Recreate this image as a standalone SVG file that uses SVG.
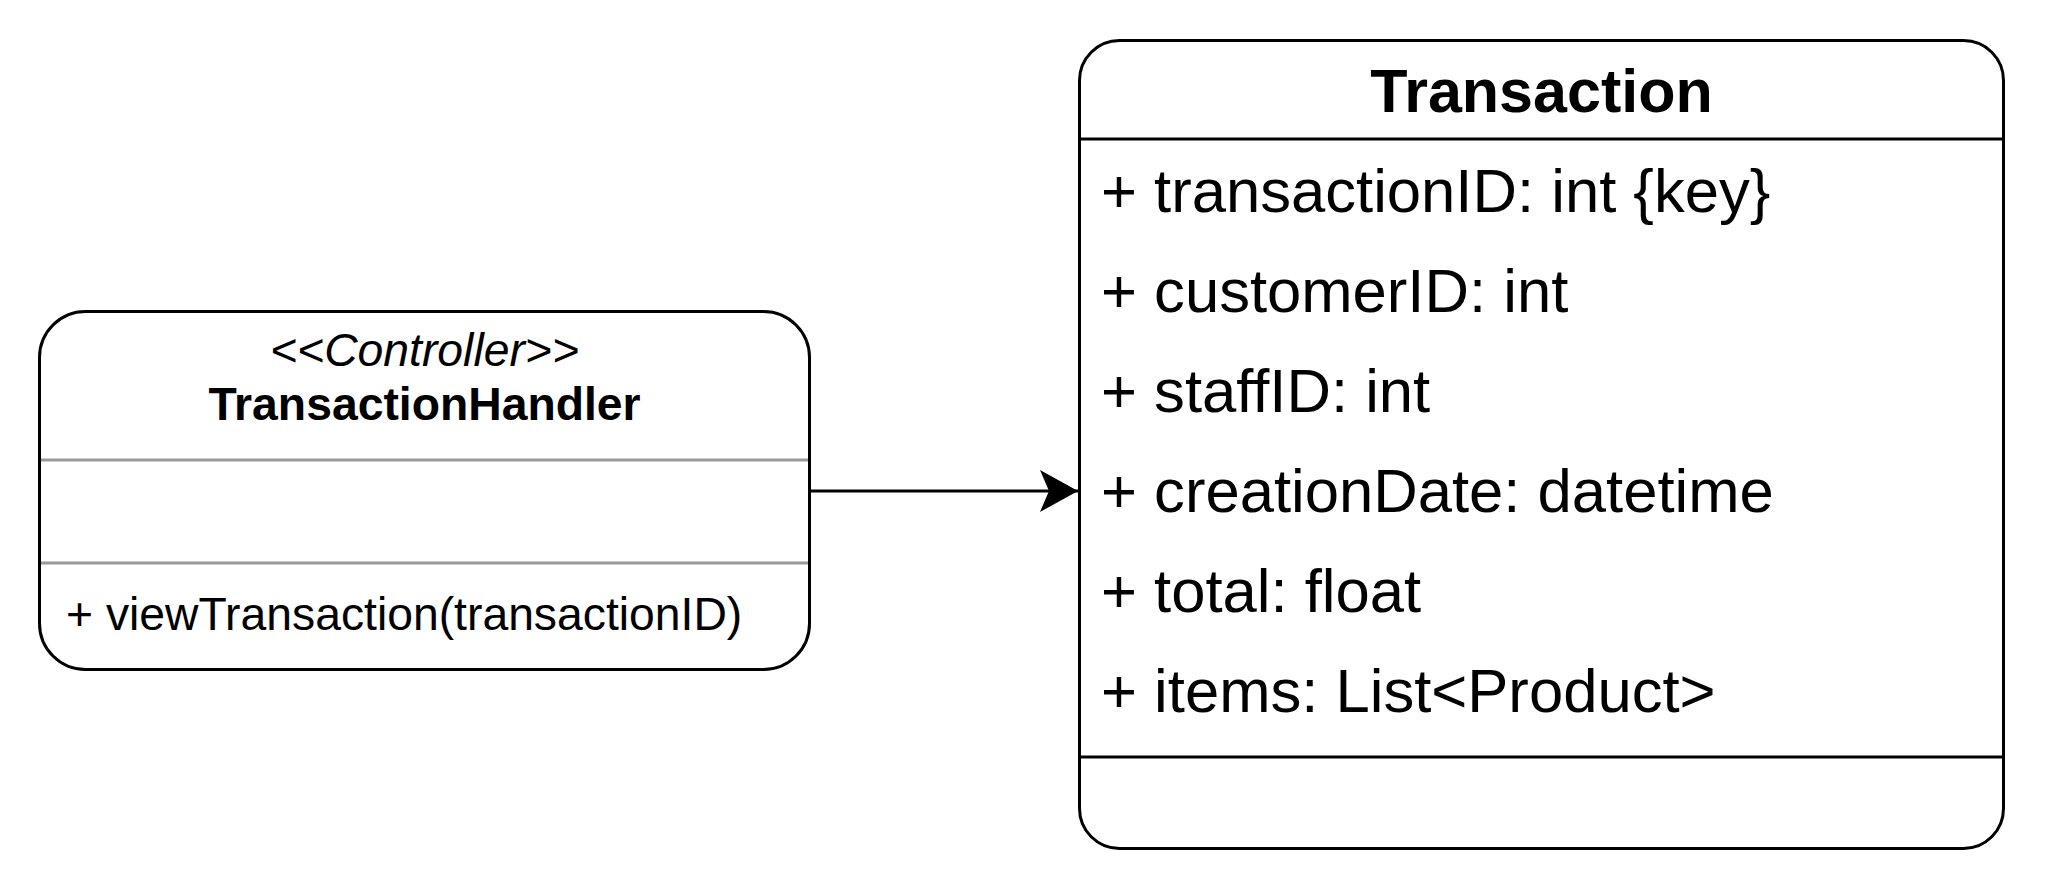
<svg xmlns="http://www.w3.org/2000/svg" width="2048" height="889" viewBox="0 0 2048 889">
<defs>
<style>
.box{fill:#fff;stroke:#000;stroke-width:3}
.sepg{stroke:#999;stroke-width:3}
.sep{stroke:#000;stroke-width:3}
.t{font-family:"Liberation Sans",Arial,sans-serif;fill:#000}
.s46{font-size:46.3px}
.s61{font-size:61.6px}
.s61b{font-size:61px}
.b{font-weight:bold}
.i{font-style:italic}
.mid{text-anchor:middle}
.edge{stroke:#000;stroke-width:3;fill:none}
</style>
<marker id="arr" markerUnits="userSpaceOnUse" markerWidth="44" markerHeight="46" refX="38" refY="21" orient="auto" viewBox="0 0 44 46">
<path d="M0,0 L38,21 L0,42 L9,21 Z" fill="#000"/>
</marker>
</defs>
<rect width="2048" height="889" fill="#fff"/>
<g id="TransactionHandler">
<rect class="box" x="39.5" y="311.5" width="770" height="358" rx="46" ry="46"/>
<line class="sepg" x1="41" y1="460" x2="808" y2="460"/>
<line class="sepg" x1="41" y1="563" x2="808" y2="563"/>
<text class="t s46 i mid" x="424.5" y="366">&lt;&lt;Controller&gt;&gt;</text>
<text class="t s46 b mid" x="424.5" y="420">TransactionHandler</text>
<text class="t s46" x="66" y="630">+ viewTransaction(transactionID)</text>
</g>
<g id="Transaction">
<rect class="box" x="1079.5" y="40.5" width="924" height="808" rx="40" ry="40"/>
<line class="sep" x1="1081" y1="139" x2="2002" y2="139"/>
<line class="sep" x1="1081" y1="757" x2="2002" y2="757"/>
<text class="t s61b b mid" x="1541.5" y="112">Transaction</text>
<text class="t s61" x="1101" y="212">+ transactionID: int {key}</text>
<text class="t s61" x="1101" y="312">+ customerID: int</text>
<text class="t s61" x="1101" y="412">+ staffID: int</text>
<text class="t s61" x="1101" y="512">+ creationDate: datetime</text>
<text class="t s61" x="1101" y="612">+ total: float</text>
<text class="t s61" x="1101" y="712">+ items: List&lt;Product&gt;</text>
</g>
<g id="connectors">
<line class="edge" x1="810" y1="491" x2="1078" y2="491" marker-end="url(#arr)"/>
</g>
</svg>
